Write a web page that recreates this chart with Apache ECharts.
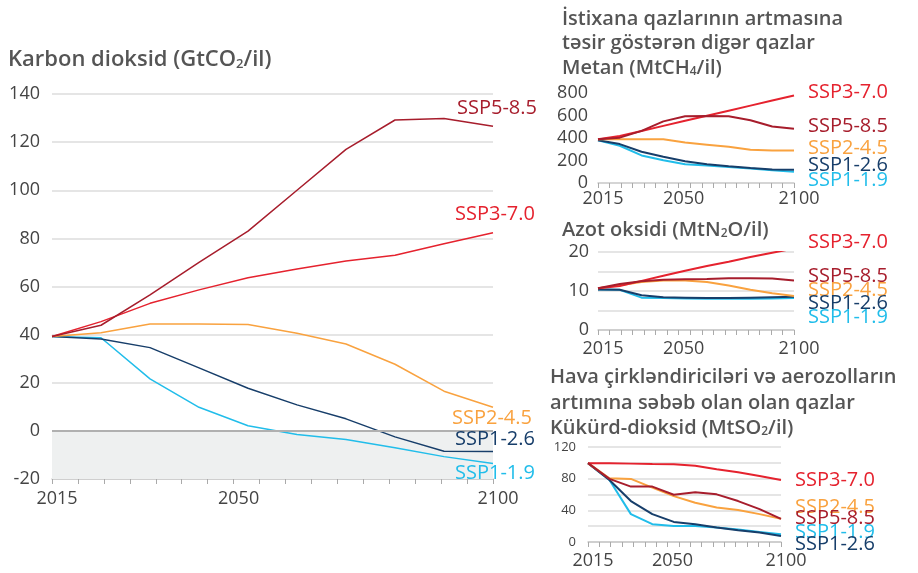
<!DOCTYPE html>
<html>
<head>
<meta charset="utf-8">
<title>SSP emissiyalar</title>
<style>
html,body{margin:0;padding:0;width:100%;height:100%;background:#fff;}
#main{width:918px;height:573px;}
</style>
</head>
<body>
<div id="main"></div>
<script src="https://cdn.jsdelivr.net/npm/echarts@6/dist/echarts.min.js"></script>
<script>
// years of the data points (drawn equally spaced, like the original)
var years = ['2015','2020','2030','2040','2050','2060','2070','2080','2090','2100'];
var yearLabels = [2015, 2050, 2100];
var names = ['SSP1-1.9','SSP1-2.6','SSP2-4.5','SSP3-7.0','SSP5-8.5'];
var colors = ['#21bdea','#173e6a','#f9a23f','#e5222e','#a71d2c'];

// Karbon dioksid (GtCO2/il)
var co2Ssp119 = [39.2, 38.7, 21.6, 9.8, 2.1, -1.5, -3.6, -7.0, -10.7, -13.6];
var co2Ssp126 = [39.2, 38.2, 34.6, 26.2, 17.7, 10.8, 5.0, -2.5, -8.5, -8.6];
var co2Ssp245 = [39.2, 40.8, 44.4, 44.4, 44.2, 40.6, 36.1, 27.7, 16.5, 9.8];
var co2Ssp370 = [39.2, 45.4, 53.0, 58.6, 63.6, 67.3, 70.6, 73.0, 77.8, 82.3];
var co2Ssp585 = [39.2, 43.9, 56.5, 70.0, 83.0, 100.0, 117.0, 129.2, 129.8, 126.6];

// Metan (MtCH4/il)
var ch4Ssp119 = [380, 331, 245, 203, 167, 156, 143, 129, 114, 99];
var ch4Ssp126 = [380, 346, 278, 233, 194, 167, 149, 134, 121, 118];
var ch4Ssp245 = [388, 390, 389, 388, 359, 341, 322, 296, 288, 288];
var ch4Ssp370 = [388, 418, 463, 508, 553, 598, 643, 688, 733, 778];
var ch4Ssp585 = [388, 403, 463, 548, 593, 596, 593, 557, 503, 482];

// Azot oksidi (MtN2O/il)
var n2oSsp119 = [10.4, 10.3, 8.3, 8.2, 8.1, 8.0, 8.0, 8.0, 8.1, 8.2];
var n2oSsp126 = [10.4, 10.3, 8.9, 8.4, 8.3, 8.2, 8.2, 8.3, 8.4, 8.5];
var n2oSsp245 = [10.7, 11.5, 12.3, 12.7, 12.7, 12.3, 11.4, 10.3, 9.4, 8.7];
var n2oSsp370 = [10.7, 11.3, 12.6, 13.9, 15.2, 16.4, 17.5, 18.7, 19.8, 20.9];
var n2oSsp585 = [10.7, 11.8, 12.5, 12.9, 13.0, 13.1, 13.3, 13.3, 13.2, 12.7];

// Kukurd-dioksid (MtSO2/il)
var so2Ssp119 = [99.6, 78.4, 35.2, 22.5, 20.3, 20.3, 18.3, 15.7, 12.7, 9.8];
var so2Ssp126 = [99.6, 78.4, 51.7, 35.2, 25.4, 22.5, 18.3, 14.9, 11.9, 7.6];
var so2Ssp245 = [99.6, 80.4, 79.7, 68.6, 58.0, 49.6, 43.7, 40.3, 35.2, 29.3];
var so2Ssp370 = [99.6, 99.4, 99.0, 98.6, 98.3, 96.2, 92.0, 88.2, 83.5, 78.4];
var so2Ssp585 = [99.6, 79.7, 70.0, 70.0, 59.7, 62.7, 60.2, 51.7, 41.5, 29.3];

var FONT = '"Open Sans", "DejaVu Sans", sans-serif';
var myChart = echarts.init(document.getElementById('main'));

var grids = [
    {left: 52, right: 425, top: 94, bottom: 94},   // CO2
    {left: 598, right: 124, top: 93, bottom: 390}, // CH4
    {left: 598, right: 124, top: 252, bottom: 243}, // N2O
    {left: 588, right: 137, top: 447, bottom: 31}  // SO2
];

var xAxes = [], yAxes = [], series = [];

function addPanel(gi, datasets, yMin, yMax, yInt, labelStep, yFont, lineW, xMargin, yMargin, showSplit) {
    // hidden category axis carrying the data points
    xAxes.push({gridIndex: gi, type: 'category', data: years, boundaryGap: false, show: false});
    // visible year axis with a tick every 5 years
    xAxes.push({
        gridIndex: gi, type: 'value', min: 2015, max: 2100, interval: 5, position: 'bottom',
        axisLine: {onZero: false, lineStyle: {color: '#c8c8c8', width: 1.5}},
        axisTick: {length: 5, lineStyle: {color: '#aaaaaa'}},
        splitLine: {show: false},
        axisLabel: {
            margin: xMargin, color: '#444', fontSize: 18, fontFamily: FONT, padding: [0, 0, 0, 10],
            formatter: function (v) { return yearLabels.indexOf(v) >= 0 ? String(v) : ''; }
        }
    });
    yAxes.push({
        gridIndex: gi, type: 'value', min: yMin, max: yMax, interval: yInt,
        axisLine: {show: false}, axisTick: {show: false},
        splitLine: {show: showSplit, lineStyle: {color: '#dcdcdc', width: 1.5}},
        axisLabel: {
            color: '#444', fontSize: yFont, fontFamily: FONT, margin: yMargin,
            formatter: function (v) { return (v % labelStep === 0) ? String(v) : ''; }
        }
    });
    for (var i = 0; i < datasets.length; i++) {
        series.push({
            name: names[i], type: 'line', xAxisIndex: gi * 2, yAxisIndex: gi,
            data: datasets[i], symbol: 'none', z: 3 + i,
            lineStyle: {color: colors[i], width: lineW}
        });
    }
}

addPanel(0, [co2Ssp119, co2Ssp126, co2Ssp245, co2Ssp370, co2Ssp585], -20, 140, 20, 20, 18, 1.5, 11, 12, true);
addPanel(1, [ch4Ssp119, ch4Ssp126, ch4Ssp245, ch4Ssp370, ch4Ssp585], 0, 800, 200, 200, 18, 2, 7, 10, false);
addPanel(2, [n2oSsp119, n2oSsp126, n2oSsp245, n2oSsp370, n2oSsp585], 0, 20, 5, 10, 18, 2, 10, 9, true);
addPanel(3, [so2Ssp119, so2Ssp126, so2Ssp245, so2Ssp370, so2Ssp585], 0, 120, 20, 40, 13, 2, 10, 12, true);

// negative emissions band and zero line on the CO2 panel
series[0].markArea = {
    silent: true,
    itemStyle: {color: '#eef0f0'},
    data: [[{yAxis: -20}, {yAxis: 0}]]
};
series[0].markLine = {
    silent: true, symbol: 'none', label: {show: false},
    lineStyle: {color: '#b0b0b0', width: 2, type: 'solid'},
    data: [{yAxis: 0}]
};
series[0].z = 2;

function txt(x, y, text, color, size, weight, rich) {
    return {
        type: 'text', left: x, top: y - size / 2, z: 100,
        style: {
            text: text, fill: color, fontSize: size, fontWeight: weight || 'normal',
            fontFamily: FONT, rich: rich
        }
    };
}
function subRich(size) {
    return {
        s: {fontSize: Math.round(size * 0.6), fontWeight: 600, fontFamily: FONT, fill: '#555',
            verticalAlign: 'bottom', lineHeight: size * 0.9}
    };
}

var graphics = [
    txt(8, 60, 'Karbon dioksid (GtCO{s|2}/il)', '#555', 22, 600, subRich(22)),
    txt(562, 19, 'İstixana qazlarının artmasına', '#555', 20, 600),
    txt(562, 43, 'təsir göstərən digər qazlar', '#555', 20, 600),
    txt(562, 68, 'Metan (MtCH{s|4}/il)', '#555', 20, 600, subRich(20)),
    txt(562, 230, 'Azot oksidi (MtN{s|2}O/il)', '#555', 20, 600, subRich(20)),
    txt(550, 377, 'Hava çirkləndiriciləri və aerozolların', '#555', 20, 600),
    txt(550, 403, 'artımına səbəb olan olan qazlar', '#555', 20, 600),
    txt(550, 428, 'Kükürd-dioksid (MtSO{s|2}/il)', '#555', 20, 600, subRich(20)),

    txt(457, 108, 'SSP5-8.5', colors[4], 20),
    txt(455, 214, 'SSP3-7.0', colors[3], 20),
    txt(452, 418, 'SSP2-4.5', colors[2], 20),
    txt(455, 439, 'SSP1-2.6', colors[1], 20),
    txt(455, 473, 'SSP1-1.9', colors[0], 20),

    txt(808, 92, 'SSP3-7.0', colors[3], 20),
    txt(808, 126, 'SSP5-8.5', colors[4], 20),
    txt(808, 148, 'SSP2-4.5', colors[2], 20),
    txt(808, 165, 'SSP1-2.6', colors[1], 20),
    txt(808, 180, 'SSP1-1.9', colors[0], 20),

    txt(808, 242, 'SSP3-7.0', colors[3], 20),
    txt(808, 276, 'SSP5-8.5', colors[4], 20),
    txt(808, 290, 'SSP2-4.5', colors[2], 20),
    txt(808, 303, 'SSP1-2.6', colors[1], 20),
    txt(808, 317, 'SSP1-1.9', colors[0], 20),

    txt(795, 480, 'SSP3-7.0', colors[3], 20),
    txt(795, 507, 'SSP2-4.5', colors[2], 20),
    txt(795, 518, 'SSP5-8.5', colors[4], 20),
    txt(795, 532, 'SSP1-1.9', colors[0], 20),
    txt(795, 544, 'SSP1-2.6', colors[1], 20)
];

var options = {
    backgroundColor: '#fff',
    animation: false,
    grid: grids,
    xAxis: xAxes,
    yAxis: yAxes,
    series: series,
    graphic: graphics
};
myChart.setOption(options);
</script>
</body>
</html>
